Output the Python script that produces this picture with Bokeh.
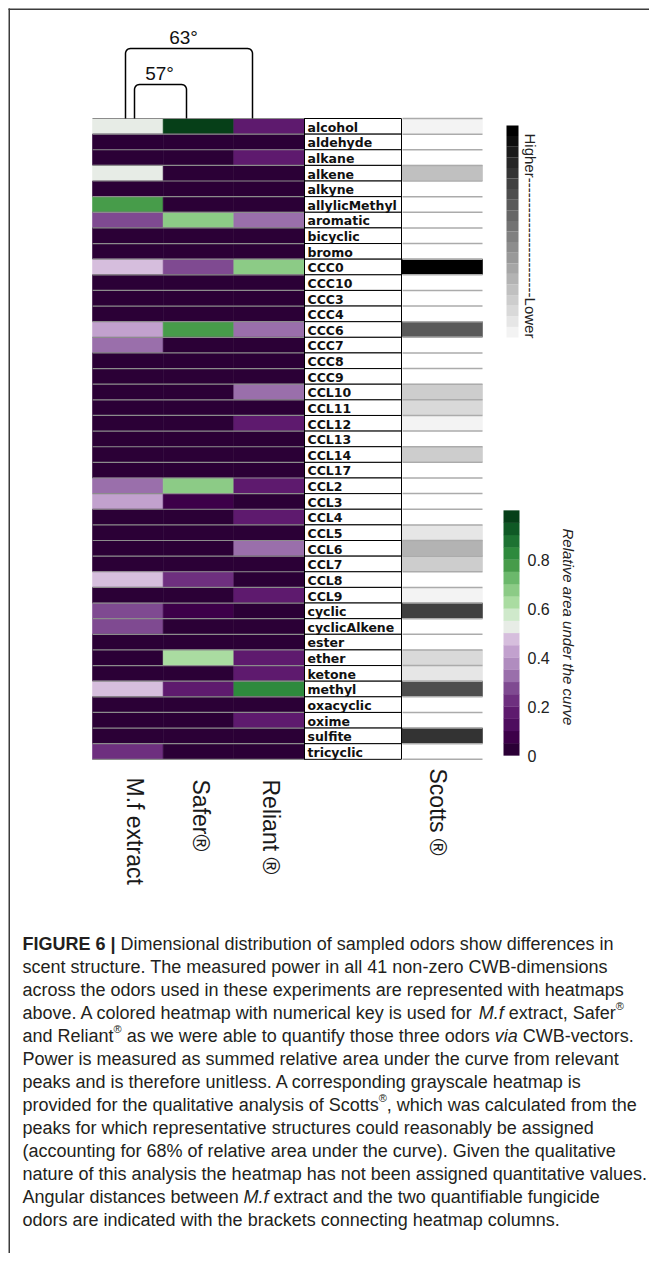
import math
import numpy as np
from bokeh.plotting import figure
from bokeh.models import Range1d, ColumnDataSource
from bokeh.transform import linear_cmap
from bokeh.core.properties import value
from bokeh.embed import file_html
from bokeh.resources import INLINE

# ---------------- data ----------------
dimensions = ["alcohol", "aldehyde", "alkane", "alkene", "alkyne", "allylicMethyl", "aromatic",
              "bicyclic", "bromo", "CCC0", "CCC10", "CCC3", "CCC4", "CCC6", "CCC7", "CCC8", "CCC9",
              "CCL10", "CCL11", "CCL12", "CCL13", "CCL14", "CCL17", "CCL2", "CCL3", "CCL4", "CCL5",
              "CCL6", "CCL7", "CCL8", "CCL9", "cyclic", "cyclicAlkene", "ester", "ether", "ketone",
              "methyl", "oxacyclic", "oxime", "sulfite", "tricyclic"]
odors = ["M.f  extract", "Safer®", "Reliant ®"]
scotts_name = "Scotts ®"

mf_extract = [0.52, 0, 0, 0.52, 0, 0.77, 0.27, 0, 0, 0.47, 0, 0, 0, 0.42, 0.32, 0, 0,
              0, 0, 0, 0, 0, 0, 0.32, 0.42, 0, 0, 0, 0, 0.47, 0, 0.27, 0.27, 0, 0, 0,
              0.47, 0, 0, 0, 0.22]
safer = [0.97, 0, 0, 0, 0, 0, 0.67, 0, 0, 0.27, 0, 0, 0, 0.77, 0, 0, 0,
         0, 0, 0, 0, 0, 0, 0.67, 0.07, 0, 0, 0, 0, 0.22, 0, 0.07, 0, 0, 0.62, 0,
         0.17, 0, 0, 0, 0]
reliant = [0.17, 0, 0.17, 0, 0, 0, 0.32, 0, 0, 0.67, 0, 0, 0, 0.32, 0, 0, 0,
           0.32, 0, 0.17, 0, 0, 0, 0.17, 0, 0.17, 0, 0.32, 0, 0, 0.17, 0, 0, 0, 0.17, 0.17,
           0.82, 0, 0.17, 0, 0]
scotts = [0.04, 0, 0, 0.22, 0, 0, 0, 0, 0, 0.98, 0, 0, 0, 0.62, 0, 0, 0,
          0.17, 0.12, 0.03, 0, 0.17, 0, 0, 0, 0, 0.07, 0.27, 0.17, 0, 0.03, 0.73, 0, 0, 0.12, 0.07,
          0.66, 0, 0, 0.78, 0]

colorbar_ticks = [0, 0.2, 0.4, 0.6, 0.8]
colorbar_tick_labels = ["0", "0.2", "0.4", "0.6", "0.8"]
angle_labels = ["57°", "63°"]
gray_key = "Higher" + "-" * 24 + "Lower"
key_title = "Relative area under the curve"

caption = [
    [("FIGURE 6 |", "b"), (" Dimensional distribution of sampled odors show differences in", "n")],
    [("scent structure. The measured power in all 41 non-zero CWB-dimensions", "n")],
    [("across the odors used in these experiments are represented with heatmaps", "n")],
    [("above. A colored heatmap with numerical key is used for ", "n"), ("M.f", "i"),
     (" extract, Safer", "n"), ("®", "s")],
    [("and Reliant", "n"), ("®", "s"), (" as we were able to quantify those three odors ", "n"),
     ("via", "i"), (" CWB-vectors.", "n")],
    [("Power is measured as summed relative area under the curve from relevant", "n")],
    [("peaks and is therefore unitless. A corresponding grayscale heatmap is", "n")],
    [("provided for the qualitative analysis of Scotts", "n"), ("®", "s"),
     (", which was calculated from the", "n")],
    [("peaks for which representative structures could reasonably be assigned", "n")],
    [("(accounting for 68% of relative area under the curve). Given the qualitative", "n")],
    [("nature of this analysis the heatmap has not been assigned quantitative values.", "n")],
    [("Angular distances between ", "n"), ("M.f", "i"), (" extract and the two quantifiable fungicide", "n")],
    [("odors are indicated with the brackets connecting heatmap columns.", "n")],
]

# ---------------- styles ----------------
PRGN20 = ["#2b0036", "#3d0049", "#4e0d5e", "#5e1a6e", "#6e2f7f", "#7f4a91", "#9a6fab", "#b08cbf",
          "#c2a1ce", "#d6bedd", "#e7ece6", "#cfe9cb", "#aadca1", "#8ccb86", "#6bb86b", "#479c4a",
          "#2e8a3d", "#1d7232", "#0f5925", "#063f18"]
GRAYS20 = []
for i in range(20):
    g = int(round(243 * (1 - i / 19)))
    GRAYS20.append("#%02x%02x%02x" % (g, g, g))

HX0, CW, HY0, RH = 92.0, 70.67, 118.0, 15.63
LW, SW = 97.0, 81.0
LX0 = HX0 + 3 * CW
SX0 = LX0 + LW
n = len(dimensions)
row_c = HY0 + (np.arange(n) + 0.5) * RH
bounds = HY0 + RH * np.arange(n + 1)

p = figure(width=649, height=1253, x_range=Range1d(0, 649), y_range=Range1d(1253, 0),
           x_axis_type=None, y_axis_type=None, toolbar_location=None, output_backend="svg",
           min_border=0, outline_line_color=None, background_fill_color="white")
p.grid.visible = False

# frame lines (top + left)
p.segment(x0=[8, 8.75], y0=[8.75, 8], x1=[649, 8.75], y1=[8.75, 1253], line_color="#3c3c3c", line_width=1.5)

# colored heatmap
cx, cy, cv = [], [], []
for ci, series in enumerate([mf_extract, safer, reliant]):
    for ri, v in enumerate(series):
        cx.append(HX0 + (ci + 0.5) * CW)
        cy.append(row_c[ri])
        cv.append(v)
cm = linear_cmap("v", PRGN20, 0, 1)
p.rect(x="x", y="y", width=CW, height=RH, source=ColumnDataSource(dict(x=cx, y=cy, v=cv)),
       fill_color=cm, line_color=cm, line_width=0.6)
p.segment(x0=HX0, x1=LX0, y0=bounds, y1=bounds, line_color="#8c8c8c", line_width=1.2)

# label column
p.rect(x=LX0 + LW / 2, y=row_c, width=LW, height=RH, fill_color="white", line_color="black", line_width=1)
p.text(x=LX0 + 3, y=row_c + 0.8, text=dimensions, text_font=value("DejaVu Sans"), text_font_size="12.5px",
       text_font_style="bold", text_baseline="middle", text_align="left", text_color="#111111")

# Scotts grayscale column
gm = linear_cmap("v", GRAYS20, 0.01, 1, low_color="#ffffff")
p.rect(x=SX0 + SW / 2, y="y", width=SW, height=RH, source=ColumnDataSource(dict(y=row_c, v=scotts)),
       fill_color=gm, line_color=gm, line_width=0.6)
p.segment(x0=SX0 + 1, x1=SX0 + SW, y0=bounds, y1=bounds, line_color="#ababab", line_width=1.5)
p.segment(x0=[LX0, SX0], x1=[LX0, SX0], y0=HY0, y1=bounds[-1], line_color="black", line_width=1)

# gray key
gk = (np.arange(20) + 0.5) / 20
gy0, gy1 = 337.0, 125.0
p.rect(x=512, y=gy0 - gk * (gy0 - gy1), width=12, height=(gy0 - gy1) / 20,
       fill_color=[GRAYS20[i] for i in range(20)], line_color=None)
p.text(x=[530], y=[133], text=[gray_key], angle=-math.pi / 2, text_align="left", text_baseline="middle",
       text_font=value("Liberation Sans"), text_font_size="15px", text_color="#222222")

# colored key
cy0, cy1 = 755.0, 510.0
p.rect(x=511, y=cy0 - gk * (cy0 - cy1), width=16, height=(cy0 - cy1) / 20 + 0.3,
       fill_color=PRGN20, line_color=None)
p.text(x=527, y=[cy0 - t * (cy0 - cy1) for t in colorbar_ticks], text=colorbar_tick_labels,
       text_align="left", text_baseline="middle", text_font=value("Liberation Sans"),
       text_font_size="16px", text_color="#222222")
p.text(x=[568], y=[528], text=[key_title], angle=-math.pi / 2, text_align="left", text_baseline="middle",
       text_font=value("Liberation Sans"), text_font_size="15px", text_font_style="italic",
       text_color="#222222")

# column labels
p.text(x=[134, 200, 270, 437], y=[777, 779, 779, 768], text=odors + [scotts_name], angle=-math.pi / 2,
       text_align="left", text_baseline="middle", text_font=value("Liberation Sans"),
       text_font_size="23px", text_color="#1a1a1a")

# angle brackets
def bracket(x0, x1, ytop, ybot, r=5.0):
    xs, ys = [x0, x0], [ybot, ytop + r]
    for t in np.linspace(math.pi, 1.5 * math.pi, 7):
        xs.append(x0 + r + r * math.cos(t)); ys.append(ytop + r + r * math.sin(t))
    for t in np.linspace(1.5 * math.pi, 2 * math.pi, 7):
        xs.append(x1 - r + r * math.cos(t)); ys.append(ytop + r + r * math.sin(t))
    xs += [x1]; ys += [ybot]
    return xs, ys

b57 = bracket(134, 186, 84, HY0)
b63 = bracket(125, 252, 48, HY0)
p.multi_line(xs=[b57[0], b63[0]], ys=[b57[1], b63[1]], line_color="black", line_width=1.5)
p.text(x=[159, 183], y=[73, 37], text=angle_labels, text_align="center", text_baseline="middle",
       text_font=value("Liberation Sans"), text_font_size="19px", text_color="#111111")

# caption (Arial/Liberation Sans metrics)
REG = {}
for ch, w in zip(" !\"#$%&'()*+,-./", [278, 278, 355, 556, 556, 889, 667, 191, 333, 333, 389, 584, 278, 333, 278, 278]):
    REG[ch] = w
for ch in "0123456789":
    REG[ch] = 556
for ch, w in zip(":;<=>?@", [278, 278, 584, 584, 584, 556, 1015]):
    REG[ch] = w
for ch, w in zip("ABCDEFGHIJKLMNOPQRSTUVWXYZ",
                 [667, 667, 722, 722, 667, 611, 778, 722, 278, 500, 667, 556, 833, 722, 778, 667, 778, 722,
                  667, 611, 722, 667, 944, 667, 667, 611]):
    REG[ch] = w
for ch, w in zip("abcdefghijklmnopqrstuvwxyz",
                 [556, 556, 500, 556, 556, 278, 556, 556, 222, 222, 500, 222, 833, 556, 556, 556, 556, 333,
                  500, 278, 556, 500, 722, 500, 500, 500]):
    REG[ch] = w
REG.update({"|": 260, "®": 737, "°": 400})
BOLD = {"F": 611, "I": 278, "G": 778, "U": 722, "R": 722, "E": 667, " ": 278, "6": 556, "|": 280}

FS, SUP = 18.0, 11.0
runs = {"n": ([], [], []), "b": ([], [], []), "i": ([], [], []), "s": ([], [], [])}
for k, line in enumerate(caption):
    mid = 943 + 23 * k
    x = 22.0
    for txt, st in line:
        size = SUP if st == "s" else FS
        tab = BOLD if st == "b" else REG
        lead = txt[:len(txt) - len(txt.lstrip())]
        body = txt.strip()
        x_start = x + sum(tab.get(c, 556) for c in lead) * size / 1000
        runs[st][0].append(x_start)
        runs[st][1].append(mid - 6.5 if st == "s" else mid)
        runs[st][2].append(body)
        x += sum(tab.get(c, 556) for c in txt) * size / 1000

for st, style, size in [("n", "normal", FS), ("b", "bold", FS), ("i", "italic", FS), ("s", "normal", SUP)]:
    xs, ys, ts = runs[st]
    p.text(x=xs, y=ys, text=ts, text_align="left", text_baseline="middle",
           text_font=value("Liberation Sans"), text_font_size="%.1fpx" % size, text_font_style=style,
           text_color="#231f20")

open("out.html", "w").write(file_html(p, INLINE))
